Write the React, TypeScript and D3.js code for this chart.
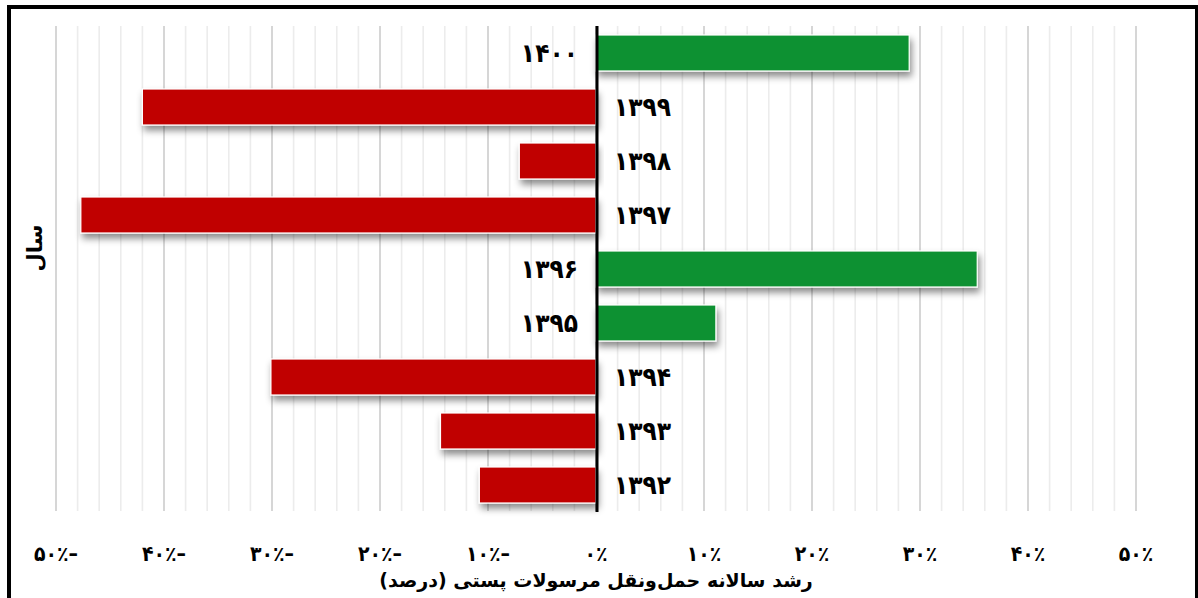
import React from 'react';
import * as d3 from 'd3';

// سال‌ها از بالا به پایین
const years = ['۱۴۰۰', '۱۳۹۹', '۱۳۹۸', '۱۳۹۷', '۱۳۹۶', '۱۳۹۵', '۱۳۹۴', '۱۳۹۳', '۱۳۹۲'];
const growth = [29.0, -42.0, -7.1, -47.7, 35.3, 11.1, -30.1, -14.4, -10.8];
const tickValues = [-50, -40, -30, -20, -10, 0, 10, 20, 30, 40, 50];
const tickLabels = ['۵۰٪–', '۴۰٪–', '۳۰٪–', '۲۰٪–', '۱۰٪–', '۰٪', '۱۰٪', '۲۰٪', '۳۰٪', '۴۰٪', '۵۰٪'];
const xTitle = 'رشد سالانه حمل‌ونقل مرسولات پستی (درصد)';
const yTitle = 'سال';

const W = 1198;
const H = 598;
const FONT = '"DejaVu Sans", sans-serif';
const FONT_C = '"DejaVu Sans Condensed", "DejaVu Sans", sans-serif';

export default function App() {
  const x = d3.scaleLinear().domain([-50, 50]).range([56, 1136]);
  const y = d3.scaleBand<string>()
    .domain(years)
    .range([26, 512])
    .paddingInner(1 / 3)
    .paddingOuter(1 / 6);

  const grid = d3.range(-50, 51, 2);
  const x0 = x(0);

  return (
    <svg width={W} height={H} style={{ position: 'absolute', left: 0, top: 0, background: '#fff' }}>
      <defs>
        <filter id="shadow" x="-10%" y="-40%" width="120%" height="200%">
          <feDropShadow dx="2" dy="5" stdDeviation="3.5" floodColor="#000" floodOpacity="0.45" />
        </filter>
      </defs>
      <rect x={0} y={0} width={W} height={H} fill="#fff" />
      {/* frame */}
      <rect x={9} y={7} width={1188} height={620} fill="none" stroke="#000" strokeWidth={4} />

      {/* gridlines */}
      {grid.map((g) => (
        <line
          key={g}
          x1={x(g)}
          x2={x(g)}
          y1={26}
          y2={511}
          stroke={g % 10 === 0 ? '#d6d6d6' : '#ececec'}
          strokeWidth={g % 10 === 0 ? 2 : 1.6}
        />
      ))}

      {/* bars */}
      {years.map((yr, i) => {
        const v = growth[i];
        const x1 = Math.min(x(v), x0);
        const w = Math.abs(x(v) - x0);
        return (
          <rect
            key={yr}
            x={x1}
            y={y(yr)}
            width={w}
            height={y.bandwidth()}
            fill={v >= 0 ? '#109130' : '#C00000'}
            stroke="#fff"
            strokeWidth={1.2}
            filter="url(#shadow)"
          />
        );
      })}

      {/* zero axis */}
      <line x1={x0 + 1} x2={x0 + 1} y1={26} y2={512} stroke="#000" strokeWidth={3} />

      {/* category labels */}
      {years.map((yr, i) => {
        const v = growth[i];
        const pos = v >= 0;
        return (
          <text
            key={yr}
            x={pos ? x0 - 18 : x0 + 18}
            y={(y(yr) ?? 0) + y.bandwidth() / 2}
            dy="0.36em"
            textAnchor={pos ? 'end' : 'start'}
            fontFamily={FONT_C}
            fontWeight="bold"
            fontSize={26}
            fill="#000"
            direction="ltr"
          >
            {yr}
          </text>
        );
      })}

      {/* x tick labels */}
      {tickValues.map((t, i) => (
        <text
          key={t}
          x={x(t)}
          y={561}
          textAnchor="middle"
          fontFamily={FONT_C}
          fontWeight="bold"
          fontSize={21}
          fill="#000"
          direction="ltr"
        >
          {tickLabels[i]}
        </text>
      ))}

      {/* axis titles */}
      <text
        x={x0}
        y={587}
        textAnchor="middle"
        fontFamily={FONT}
        fontWeight="bold"
        fontSize={19}
        fill="#000"
      >
        {xTitle}
      </text>
      <text
        transform={`translate(42, 248) rotate(-90)`}
        textAnchor="middle"
        fontFamily={FONT}
        fontWeight="bold"
        fontSize={21}
        fill="#000"
      >
        {yTitle}
      </text>
    </svg>
  );
}
